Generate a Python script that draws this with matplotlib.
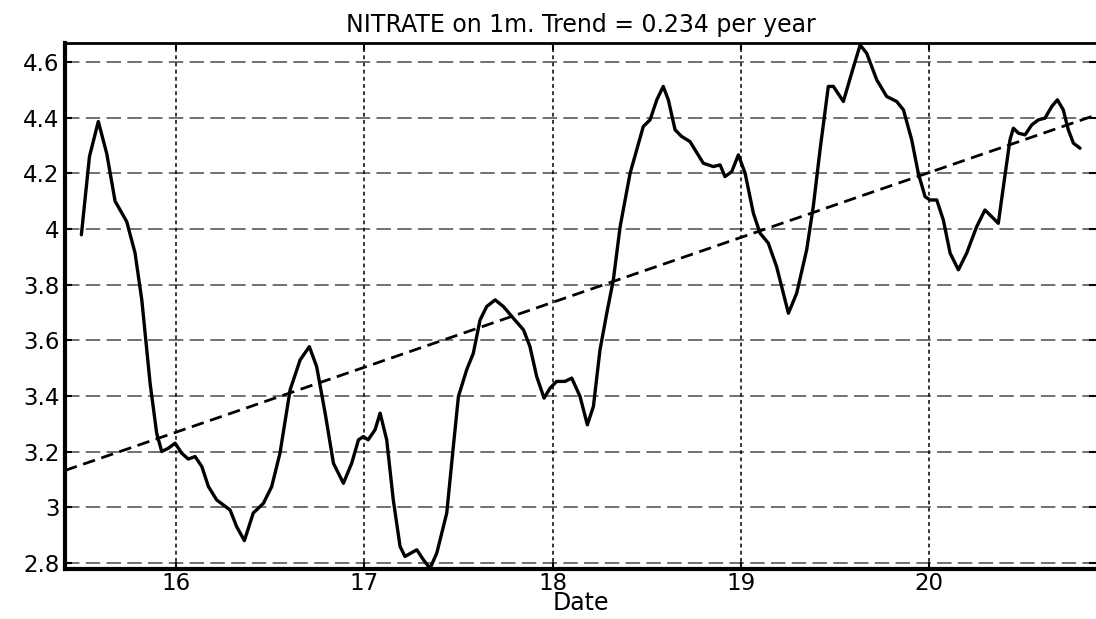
import matplotlib
matplotlib.use("Agg")
import matplotlib.pyplot as plt
import numpy as np

# nitrate at 1 m
date = [15.497, 15.54, 15.587, 15.632, 15.676, 15.738, 15.782, 15.818, 15.862, 15.897,
        15.924, 15.959, 15.995, 16.030, 16.065, 16.101, 16.137, 16.172, 16.216, 16.287,
        16.322, 16.363, 16.41, 16.464, 16.508, 16.552, 16.606, 16.659, 16.708, 16.747,
        16.792, 16.836, 16.889, 16.933, 16.969, 16.995, 17.02, 17.057, 17.084, 17.119,
        17.154, 17.19, 17.216, 17.279, 17.314, 17.349, 17.385, 17.438, 17.473, 17.5,
        17.544, 17.579, 17.615, 17.65, 17.695, 17.739, 17.792, 17.846, 17.88, 17.916,
        17.955, 17.987, 18.022, 18.066, 18.102, 18.146, 18.185, 18.217, 18.252, 18.288,
        18.323, 18.359, 18.412, 18.482, 18.518, 18.554, 18.588, 18.615, 18.651, 18.686,
        18.73, 18.801, 18.854, 18.89, 18.916, 18.952, 18.987, 19.023, 19.067, 19.102,
        19.146, 19.19, 19.253, 19.297, 19.35, 19.385, 19.421, 19.465, 19.492, 19.545,
        19.589, 19.634, 19.669, 19.722, 19.775, 19.828, 19.864, 19.908, 19.943, 19.979,
        20.005, 20.041, 20.076, 20.112, 20.156, 20.20, 20.253, 20.297, 20.333, 20.368,
        20.395, 20.43, 20.448, 20.475, 20.51, 20.546, 20.581, 20.616, 20.652, 20.682,
        20.713, 20.74, 20.767, 20.802]
nitrate = [3.979, 4.26, 4.386, 4.27, 4.10, 4.026, 3.914, 3.745, 3.446, 3.266,
           3.20, 3.212, 3.23, 3.194, 3.173, 3.182, 3.146, 3.074, 3.026, 2.99,
           2.93, 2.88, 2.979, 3.014, 3.074, 3.194, 3.422, 3.529, 3.577, 3.505,
           3.338, 3.158, 3.086, 3.158, 3.242, 3.254, 3.242, 3.278, 3.338, 3.242,
           3.026, 2.859, 2.823, 2.847, 2.811, 2.78, 2.835, 2.979, 3.218, 3.398,
           3.494, 3.553, 3.673, 3.721, 3.745, 3.721, 3.679, 3.637, 3.577, 3.469,
           3.392, 3.428, 3.452, 3.452, 3.464, 3.398, 3.296, 3.362, 3.565, 3.697,
           3.817, 4.008, 4.20, 4.368, 4.392, 4.464, 4.512, 4.464, 4.356, 4.332,
           4.314, 4.236, 4.224, 4.23, 4.188, 4.206, 4.266, 4.20, 4.056, 3.985,
           3.949, 3.865, 3.697, 3.769, 3.925, 4.08, 4.284, 4.512, 4.512, 4.458,
           4.56, 4.661, 4.631, 4.536, 4.476, 4.458, 4.428, 4.32, 4.20, 4.116,
           4.104, 4.104, 4.032, 3.913, 3.853, 3.913, 4.008, 4.068, 4.044, 4.02,
           4.152, 4.32, 4.362, 4.344, 4.338, 4.374, 4.392, 4.398, 4.44, 4.464,
           4.428, 4.356, 4.308, 4.29]

trend_x = [15.41, 20.89]
trend_y = [3.132, 4.41]

xticks = [16, 17, 18, 19, 20]
yticks = [2.8, 3.0, 3.2, 3.4, 3.6, 3.8, 4.0, 4.2, 4.4, 4.6]
ylabels = ["2.8", "3", "3.2", "3.4", "3.6", "3.8", "4", "4.2", "4.4", "4.6"]

plt.rcParams['font.family'] = ['DejaVu Sans']

fig = plt.figure(figsize=(10.96, 6.19), dpi=100)
ax = fig.add_axes([0.0593, 0.0808, 0.9407, 0.8497])

for y in yticks:
    ax.axhline(y, color='0.4', lw=1.3, ls=(0, (8, 3.5)), zorder=1)
for x in xticks:
    ax.axvline(x, color='black', lw=1.1, ls=(0, (2.5, 2.2)), zorder=1)

ax.plot(trend_x, trend_y, color='black', lw=2.0, ls=(0, (4.5, 2.4)), zorder=2)
ax.plot(date, nitrate, color='black', lw=2.4, solid_joinstyle='round',
        solid_capstyle='round', zorder=3)

ax.set_xlim(15.41, 20.887)
ax.set_ylim(2.778, 4.668)
ax.set_xticks(xticks)
ax.set_yticks(yticks)
ax.set_yticklabels(ylabels)
ax.tick_params(direction='in', length=5, width=1.5, labelsize=16.5, top=True, right=True)
ax.tick_params(axis='y', pad=4)
ax.tick_params(axis='x', pad=2.5)

ax.spines['left'].set_linewidth(3)
ax.spines['bottom'].set_linewidth(3)
ax.spines['top'].set_linewidth(2)
ax.spines['right'].set_visible(False)

ax.set_title("NITRATE on 1m. Trend = 0.234 per year", fontsize=17, pad=8)
ax.set_xlabel("Date", fontsize=17, labelpad=-3)

fig.savefig("out.png", dpi=100)
